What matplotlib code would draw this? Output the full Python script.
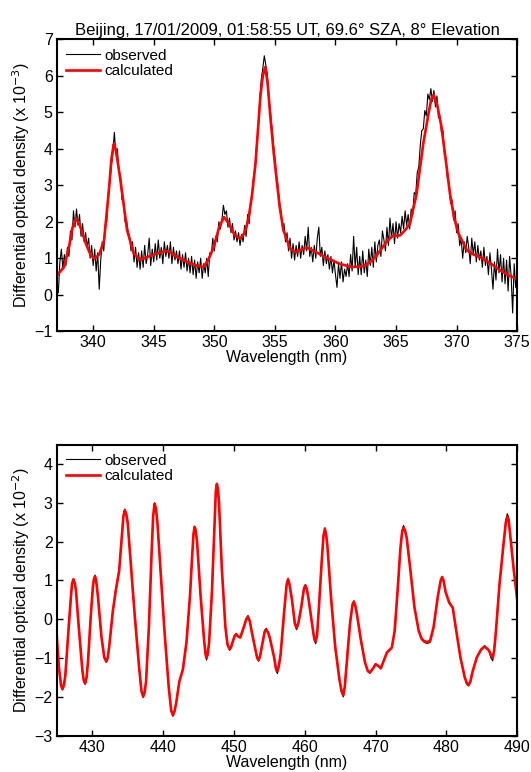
import numpy as np
import matplotlib
matplotlib.use("Agg")
import matplotlib.pyplot as plt

plt.rcParams['font.family'] = ['Liberation Sans', 'DejaVu Sans']
plt.rcParams['font.size'] = 11.5

# ---- top panel (UV, x 10^-3) ----
# calculated curve, read at key points
uv_calc_wl = [337.0, 337.6, 338.0, 338.3, 338.6, 338.9, 339.4, 339.8, 340.1, 340.5,
              340.9, 341.3, 341.5, 341.7, 341.85, 342.0, 342.25, 342.8, 343.35, 343.9, 344.85, 345.95,
              346.4, 346.65, 347.75, 348.5, 349.1, 349.5, 349.95, 350.4, 350.8, 351.2,
              351.7, 352.15, 352.5, 352.8, 353.1, 353.4, 353.8, 354.0, 354.2, 354.4, 354.6, 354.9,
              355.15, 355.4, 355.7, 356.25, 356.7, 357.2, 357.65, 358.5, 359.4, 360.4,
              361.35, 362.3, 362.8, 363.3, 364.1, 364.65, 365.35, 365.75, 366.15, 366.7,
              367.25, 367.7, 367.9, 368.1, 368.4, 368.75, 369.1, 369.45, 369.8, 370.15, 370.85,
              371.4, 371.95, 372.75, 373.6, 374.3, 375.0]
uv_calc = [0.53, 0.76, 1.3, 1.85, 2.09, 1.9, 1.40, 1.08, 0.99, 1.1,
           1.49, 2.87, 3.7, 4.13, 4.0, 3.7, 3.14, 1.77, 1.13, 0.96, 1.08, 1.20,
           1.17, 1.08, 0.90, 0.80, 0.76, 0.95, 1.31, 1.85, 2.13, 1.95,
           1.62, 1.54, 1.7, 2.04, 2.7, 3.6, 5.43, 6.0, 6.24, 5.8, 4.97, 3.9,
           3.14, 2.4, 1.77, 1.26, 1.17, 1.24, 1.29, 1.15, 0.99, 0.84,
           0.76, 0.78, 0.88, 1.03, 1.40, 1.60, 1.63, 1.77, 1.95, 2.77,
           4.15, 5.0, 5.35, 5.48, 5.2, 4.6, 3.7, 2.77, 2.1, 1.68, 1.22,
           1.1, 1.03, 0.87, 0.67, 0.53, 0.43]

# observed, one row per nm (337.000 ... 337.875, step 0.125 nm)
uv_obs_wl = np.arange(337.0, 375.0001, 0.125)
uv_obs = [
    0.35, 0.05, 0.9, 1.25, 0.7, 1.1, 0.8, 1.3,      # 337
    1.05, 1.75, 1.5, 2.3, 1.85, 2.35, 1.9, 2.2,     # 338
    1.6, 1.95, 1.45, 1.7, 1.3, 1.55, 1.0, 1.35,     # 339
    0.8, 1.25, 0.65, 1.15, 0.15, 0.95, 1.45, 1.2,   # 340
    1.9, 2.0, 2.8, 3.1, 3.5, 3.9, 4.45, 3.85,       # 341
    4.0, 3.35, 3.3, 2.6, 2.65, 2.0, 2.05, 1.75,     # 342
    1.6, 1.2, 1.45, 0.9, 1.3, 0.75, 1.15, 0.7,      # 343
    1.2, 0.75, 1.35, 0.85, 1.1, 1.55, 0.8, 1.25,    # 344
    0.9, 1.4, 0.95, 1.5, 1.0, 1.3, 0.85, 1.45,      # 345
    1.05, 1.35, 1.0, 1.45, 0.85, 1.3, 0.95, 1.2,    # 346
    0.85, 1.2, 0.7, 1.1, 0.75, 1.15, 0.65, 1.0,     # 347
    0.6, 1.05, 0.55, 0.95, 0.45, 0.9, 0.6, 1.0,     # 348
    0.45, 0.85, 0.6, 1.0, 0.5, 1.15, 1.1, 1.55,     # 349
    1.2, 1.6, 1.45, 2.0, 1.8, 2.05, 2.45, 2.2,      # 350
    2.3, 1.85, 2.1, 1.7, 1.95, 1.5, 1.75, 1.45,     # 351
    1.7, 1.35, 1.65, 1.45, 1.9, 1.6, 2.2, 1.95,     # 352
    2.55, 2.7, 3.3, 3.45, 4.2, 4.5, 5.35, 5.9,      # 353
    6.2, 6.55, 6.3, 6.05, 5.45, 5.05, 4.6, 4.15,    # 354
    3.75, 3.3, 3.0, 2.55, 2.3, 1.85, 1.95, 1.45,    # 355
    1.7, 1.2, 1.55, 1.0, 1.4, 0.95, 1.35, 1.05,     # 356
    1.45, 1.0, 1.35, 1.1, 1.6, 1.2, 1.85, 1.05,     # 357
    1.3, 0.9, 1.35, 1.0, 1.55, 1.85, 1.05, 1.3,     # 358
    0.8, 1.2, 0.85, 1.1, 0.7, 1.05, 0.6, 0.95,      # 359
    0.55, 0.2, 0.85, 0.45, 0.9, 0.35, 0.7, 0.5,     # 360
    0.85, 0.5, 1.1, 0.65, 1.6, 0.75, 1.3, 0.55,     # 361
    1.05, 0.55, 1.2, 0.6, 0.95, 0.5, 1.25, 0.8,     # 362
    1.3, 0.75, 1.45, 0.9, 1.35, 1.5, 1.05, 1.75,    # 363
    1.5, 1.2, 1.85, 1.35, 2.1, 1.55, 1.95, 1.4,     # 364
    2.0, 1.55, 1.95, 1.7, 2.15, 1.8, 2.3, 1.9,      # 365
    2.2, 1.8, 2.35, 2.2, 2.8, 2.75, 3.35, 3.5,      # 366
    4.1, 4.5, 4.55, 5.05, 4.9, 5.5, 5.35, 5.65,     # 367
    5.3, 5.6, 5.15, 5.45, 4.85, 4.9, 4.45, 4.5,     # 368
    3.8, 3.75, 3.15, 3.05, 2.5, 2.6, 2.05, 2.3,     # 369
    1.7, 1.95, 1.35, 1.55, 1.0, 1.45, 1.15, 1.6,    # 370
    1.3, 0.85, 1.55, 1.1, 1.45, 0.9, 1.35, 0.95,    # 371
    1.2, 0.75, 1.3, 0.8, 1.05, 0.55, 1.15, 0.7,     # 372
    0.15, 0.9, 0.4, 1.25, 0.6, 1.1, 0.35, 1.0,      # 373
    0.3, 0.95, 0.1, 1.05, 0.5, -0.5, 0.85, 0.2,     # 374
    0.55,                                           # 375
]

# ---- bottom panel (visible, x 10^-2) ----
vis_wl = [425.0, 425.3, 425.6, 425.8, 426.0, 426.2, 426.6, 427.0, 427.15, 427.35,
          427.55, 427.7, 428.1, 428.6, 428.8, 429.0, 429.2, 429.4, 429.8, 430.1,
          430.25, 430.4, 430.55, 430.8, 431.3, 431.7, 432.0, 432.2, 432.4, 432.9,
          433.35, 433.8, 434.2, 434.4, 434.6, 434.8, 435.0, 435.5, 436.0, 436.6,
          436.95, 437.2, 437.4, 437.6, 438.0, 438.4, 438.6, 438.8, 439.0, 439.2,
          439.7, 440.2, 440.8, 441.15, 441.4, 441.65, 441.9, 442.3, 442.8, 443.3,
          443.8, 444.1, 444.3, 444.45, 444.6, 444.8, 445.3, 445.8, 446.0, 446.15,
          446.3, 446.5, 446.9, 447.25, 447.45, 447.6, 447.75, 447.9, 448.3, 448.8,
          449.1, 449.4, 449.6, 449.8, 450.1, 450.35, 450.6, 450.9, 451.4, 451.75,
          452.0, 452.25, 452.5, 453.0, 453.3, 453.5, 453.7, 454.0, 454.35, 454.6,
          454.85, 455.1, 455.7, 455.95, 456.15, 456.35, 456.6, 457.1, 457.45, 457.65,
          457.85, 458.2, 458.6, 458.85, 459.1, 459.5, 459.9, 460.1, 460.3, 460.6,
          461.1, 461.35, 461.55, 461.75, 462.0, 462.4, 462.65, 462.85, 463.05, 463.2,
          463.7, 464.3, 464.9, 465.2, 465.45, 465.65, 465.9, 466.4, 466.75, 466.95,
          467.15, 467.4, 467.9, 468.5, 468.9, 469.2, 469.6, 470.0, 470.4, 470.75,
          471.2, 471.6, 472.3, 472.7, 473.1, 473.5, 473.75, 473.95, 474.15, 474.4,
          474.9, 475.5, 476.1, 476.5, 476.9, 477.3, 477.7, 478.2, 478.8, 479.2,
          479.4, 479.6, 479.9, 480.4, 480.9, 481.4, 482.0, 482.6, 482.9, 483.15,
          483.4, 483.7, 484.3, 484.9, 485.4, 486.0, 486.3, 486.55, 486.75, 487.0,
          487.5, 488.1, 488.4, 488.6, 488.8, 489.0, 489.5, 490.0]
vis_calc = [-0.45, -1.25, -1.70, -1.80, -1.70, -1.45, -0.4, 0.6, 0.92, 1.03,
            0.92, 0.75, -0.2, -1.3, -1.57, -1.65, -1.50, -1.1, 0.1, 0.85,
            1.04, 1.10, 1.00, 0.6, -0.45, -0.98, -1.09, -0.98, -0.7, 0.2,
            0.77, 1.25, 2.2, 2.65, 2.81, 2.72, 2.5, 1.3, 0.1, -1.2,
            -1.85, -1.99, -1.88, -1.6, -0.2, 1.8, 2.65, 2.98, 2.85, 2.5,
            1.1, -0.3, -1.75, -2.35, -2.47, -2.35, -2.1, -1.6, -1.29, -0.6,
            0.6, 1.6, 2.2, 2.38, 2.3, 2.0, 0.6, -0.55, -0.9, -0.99,
            -0.9, -0.6, 0.7, 2.4, 3.3, 3.49, 3.35, 3.0, 1.3, -0.2,
            -0.65, -0.77, -0.72, -0.6, -0.43, -0.39, -0.44, -0.47, -0.2, 0.0,
            0.06, -0.05, -0.3, -0.75, -1.0, -1.05, -0.95, -0.65, -0.32, -0.27,
            -0.35, -0.5, -1.0, -1.28, -1.33, -1.2, -0.9, 0.2, 0.9, 1.03,
            0.9, 0.5, -0.1, -0.23, -0.1, 0.3, 0.8, 0.87, 0.78, 0.45,
            -0.2, -0.5, -0.57, -0.4, 0.3, 1.5, 2.15, 2.33, 2.15, 1.9,
            0.6, -0.7, -1.55, -1.85, -1.95, -1.75, -1.2, -0.1, 0.38, 0.45,
            0.35, 0.1, -0.5, -1.1, -1.33, -1.37, -1.28, -1.16, -1.2, -1.26,
            -1.05, -0.86, -0.73, -0.3, 0.7, 1.8, 2.25, 2.36, 2.3, 2.1,
            1.3, 0.3, -0.3, -0.5, -0.57, -0.58, -0.56, -0.2, 0.6, 1.0,
            1.09, 1.0, 0.7, 0.43, 0.3, -0.3, -1.0, -1.5, -1.65, -1.69,
            -1.6, -1.35, -0.98, -0.78, -0.70, -0.8, -0.92, -0.99, -0.8, -0.3,
            0.9, 2.0, 2.5, 2.64, 2.55, 2.2, 1.3, 0.51]
vis_obs = [-0.45, -1.25, -1.72, -1.82, -1.70, -1.45, -0.4, 0.6, 0.94, 1.05,
           0.92, 0.75, -0.2, -1.3, -1.6, -1.68, -1.50, -1.1, 0.1, 0.88,
           1.07, 1.14, 1.02, 0.6, -0.45, -1.0, -1.11, -0.98, -0.7, 0.2,
           0.82, 1.25, 2.2, 2.67, 2.84, 2.72, 2.5, 1.3, 0.1, -1.2,
           -1.87, -2.02, -1.88, -1.6, -0.2, 1.8, 2.67, 3.0, 2.85, 2.5,
           1.1, -0.3, -1.75, -2.37, -2.5, -2.35, -2.1, -1.6, -1.29, -0.6,
           0.6, 1.6, 2.22, 2.4, 2.3, 2.0, 0.6, -0.55, -0.95, -1.05,
           -0.92, -0.6, 0.7, 2.4, 3.32, 3.5, 3.35, 3.0, 1.3, -0.2,
           -0.67, -0.8, -0.72, -0.6, -0.41, -0.36, -0.44, -0.47, -0.2, 0.03,
           0.1, -0.05, -0.3, -0.75, -1.02, -1.08, -0.95, -0.65, -0.28, -0.23,
           -0.35, -0.5, -1.0, -1.33, -1.4, -1.22, -0.9, 0.2, 0.92, 1.06,
           0.9, 0.5, -0.12, -0.27, -0.1, 0.3, 0.82, 0.9, 0.78, 0.45,
           -0.2, -0.55, -0.63, -0.42, 0.3, 1.5, 2.17, 2.36, 2.15, 1.9,
           0.6, -0.7, -1.55, -1.88, -2.0, -1.75, -1.2, -0.1, 0.4, 0.48,
           0.35, 0.1, -0.5, -1.1, -1.35, -1.39, -1.28, -1.14, -1.2, -1.28,
           -1.05, -0.86, -0.73, -0.3, 0.7, 1.8, 2.3, 2.42, 2.32, 2.1,
           1.3, 0.3, -0.3, -0.52, -0.6, -0.62, -0.6, -0.2, 0.6, 1.02,
           1.1, 1.0, 0.7, 0.46, 0.3, -0.3, -1.0, -1.5, -1.68, -1.72,
           -1.6, -1.35, -0.98, -0.78, -0.68, -0.8, -1.0, -1.07, -0.82, -0.3,
           0.9, 2.0, 2.56, 2.72, 2.62, 2.2, 1.3, 0.51]

fig = plt.figure(figsize=(5.31, 7.72), dpi=100)
ax1 = fig.add_axes([0.107, 0.571, 0.867, 0.378])
ax2 = fig.add_axes([0.107, 0.047, 0.867, 0.377])

ax1.plot(uv_obs_wl, uv_obs, color='black', lw=0.8, label='observed')
ax1.plot(uv_calc_wl, uv_calc, color='red', lw=1.9, label='calculated')
ax1.set_xlim(337, 375)
ax1.set_ylim(-1, 7)
ax1.set_xticks(range(340, 376, 5))
ax1.set_yticks(range(-1, 8))
ax1.set_xlabel('Wavelength (nm)', labelpad=0)
ax1.set_ylabel('Differential optical density (x 10$^{-3}$)', labelpad=2)
ax1.set_title('Beijing, 17/01/2009, 01:58:55 UT, 69.6° SZA, 8° Elevation', fontsize=12, pad=3)

ax2.plot(vis_wl, vis_obs, color='black', lw=0.8, label='observed')
ax2.plot(vis_wl, vis_calc, color='red', lw=1.9, label='calculated')
ax2.set_xlim(425, 490)
ax2.set_ylim(-3, 4.5)
ax2.set_xticks(range(430, 491, 10))
ax2.set_yticks(range(-3, 5))
ax2.set_xlabel('Wavelength (nm)', labelpad=0)
ax2.set_ylabel('Differential optical density (x 10$^{-2}$)', labelpad=2)

for ax in (ax1, ax2):
    ax.tick_params(direction='in', top=True, right=True, length=4, width=1, pad=3)
    for s in ax.spines.values():
        s.set_linewidth(1.5)
    ax.legend(loc='upper left', frameon=False, handlelength=2.2, handletextpad=0.3,
              borderaxespad=0.2, labelspacing=0.1, fontsize=11)

fig.savefig('out.png', dpi=100)
